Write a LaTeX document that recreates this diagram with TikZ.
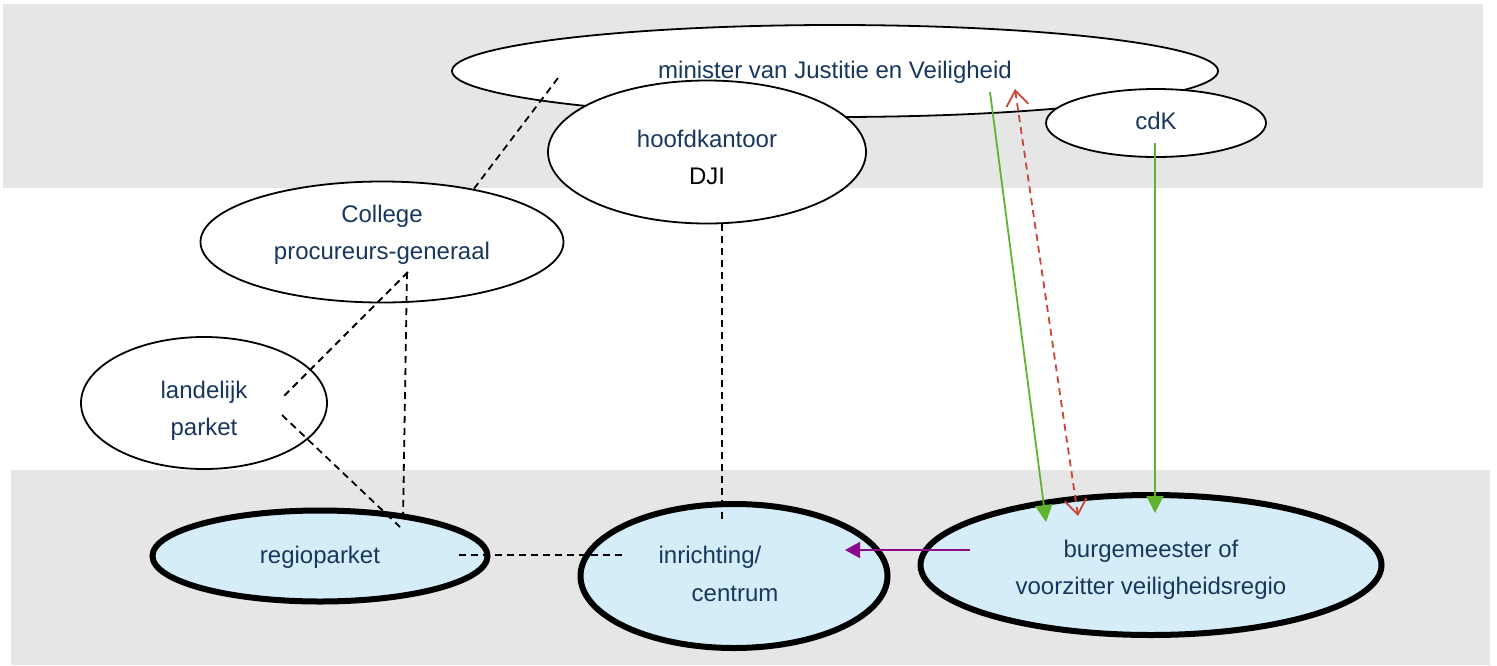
\documentclass[tikz,border=0pt]{standalone}
\usepackage{fontspec}
\setmainfont{Liberation Sans}
\usetikzlibrary{arrows.meta,shapes.geometric}
\definecolor{band}{HTML}{E6E6E6}
\definecolor{txt}{HTML}{17375E}
\definecolor{lblue}{HTML}{D5EDF9}
\definecolor{grn}{HTML}{63B22F}
\definecolor{rd}{HTML}{CC4433}
\definecolor{prp}{HTML}{8B0A8B}
\begin{document}
\begin{tikzpicture}[x=1pt,y=-1pt,
  oval/.style={ellipse,draw=black,line width=1.8pt,fill=white,inner sep=0pt},
  hub/.style={ellipse,draw=black,line width=6pt,fill=lblue,inner sep=0pt},
  lbl/.style={text=txt,font=\fontsize{24}{37}\selectfont,align=center,inner sep=0pt},
  link/.style={draw=black,line width=1.8pt,dash pattern=on 7pt off 5pt},
  grnarrow/.style={draw=grn,line width=1.8pt,-{Triangle[length=17pt,width=17pt]}},
  prparrow/.style={draw=prp,line width=1.8pt,-{Triangle[length=15pt,width=16pt]}},
  rdarrow/.style={draw=rd,line width=1.8pt,dash pattern=on 7pt off 5pt,
     {Straight Barb[length=15pt,width=22pt]}-{Straight Barb[length=15pt,width=22pt]}}]
\useasboundingbox (0,0) rectangle (1497,665);
% bands
\fill[band] (3,4) rectangle (1483,188);
\fill[band] (11,470) rectangle (1490,665);
% ellipses
\node[oval,minimum width=766pt,minimum height=92pt] (min) at (835,71) {};
\node[oval,minimum width=318pt,minimum height=143pt] (hq) at (707,152) {};
\node[oval,minimum width=220pt,minimum height=68pt] (cdk) at (1156,123) {};
\node[oval,minimum width=363pt,minimum height=121pt] (col) at (382,242) {};
\node[oval,minimum width=246pt,minimum height=132pt] (lp) at (204,403) {};
\node[hub,minimum width=335pt,minimum height=91pt] (rp) at (320,556) {};
\node[hub,minimum width=307pt,minimum height=144pt] (inr) at (734,576) {};
\node[hub,minimum width=461pt,minimum height=140pt] (bm) at (1151,565) {};
% texts
\node[lbl] (minT) at (835,72) {minister van Justitie en Veiligheid};
\node[lbl] (hqT) at (707,157) {hoofdkantoor\\{\color{black}DJI}};
\node[lbl] (cdkT) at (1156,121) {cdK};
\node[lbl] (colT) at (382,235) {College\\procureurs-generaal};
\node[lbl] (lpT) at (204,411) {landelijk\\parket};
\node[lbl] (rpT) at (320,557) {regioparket};
\node[lbl] (inrT1) at (710,557) {inrichting/};
\node[lbl] (inrT2) at (735,594) {centrum};
\node[lbl] (bmT) at (1151,570) {burgemeester of\\voorzitter veiligheidsregio};
% dashed links
\draw[link] ([shift={(-277,7)}]min.center) -- ([shift={(91,-52)}]col.center);
\draw[link] ([shift={(26,30)}]col.center) -- ([shift={(78,-5)}]lp.center);
\draw[link] ([shift={(78,12)}]lp.center) -- ([shift={(80,-29)}]rp.center);
\draw[link] ([shift={(25,30)}]col.center) -- ([shift={(83,-36)}]rp.center);
\draw[link] ([shift={(15,72)}]hq.center) -- ([shift={(-12,-53)}]inr.center);
\draw[link] ([shift={(139,-1)}]rp.center) -- ([shift={(-112,-21)}]inr.center);
% arrows
\draw[prparrow] ([shift={(-181,-15)}]bm.center) -- ([shift={(111,-26)}]inr.center);
\draw[grnarrow] ([shift={(155,21)}]min.center) -- ([shift={(-105,-43)}]bm.center);
\draw[grnarrow] ([shift={(-1,20)}]cdk.center) -- ([shift={(4,-52)}]bm.center);
\draw[rdarrow] ([shift={(180,18)}]min.center) -- ([shift={(-73,-49)}]bm.center);
\end{tikzpicture}
\end{document}
